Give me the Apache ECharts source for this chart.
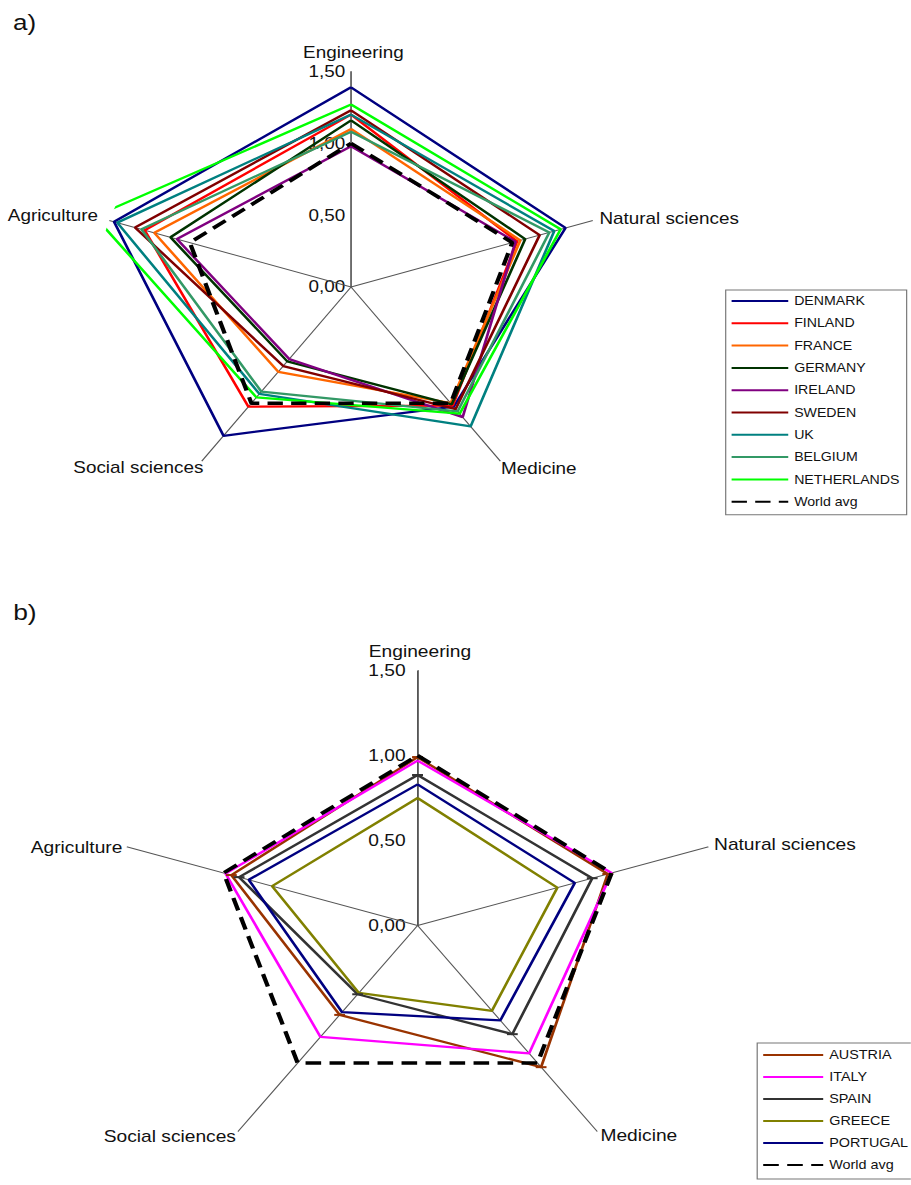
<!DOCTYPE html>
<html>
<head>
<meta charset="utf-8">
<script src="https://cdn.jsdelivr.net/npm/echarts@6/dist/echarts.min.js"></script>
<style>
  html, body { margin:0; padding:0; background:#fff; width:911px; height:1185px; overflow:hidden; }
  .chart { position:absolute; left:0; transform-origin:0 0; }
</style>
</head>
<body>
<div id="ca" class="chart" style="top:0;width:772px;height:590px;transform:scaleX(1.18);"></div>
<div id="cb" class="chart" style="top:590px;width:759px;height:595px;transform:scaleX(1.2);"></div>
<script>
// ---------- DATA ----------
const categories = ['Engineering', 'Natural sciences', 'Medicine', 'Social sciences', 'Agriculture'];
const tickValues = [0, 0.5, 1.0, 1.5];

// panel a)  order: Engineering, Natural sciences, Medicine, Social sciences, Agriculture
const countriesA = ['DENMARK', 'FINLAND', 'FRANCE', 'GERMANY', 'IRELAND', 'SWEDEN', 'UK', 'BELGIUM', 'NETHERLANDS', 'World avg'];
const denmark     = [1.39, 1.33, 1.03, 1.28, 1.47];
const finland     = [1.20, 1.03, 1.02, 1.03, 1.28];
const france      = [1.10, 1.05, 1.00, 0.73, 1.22];
const germany     = [1.16, 1.08, 1.01, 0.64, 1.12];
const ireland     = [0.98, 1.02, 1.12, 0.62, 1.08];
const sweden      = [1.23, 1.17, 1.05, 0.68, 1.34];
const uk          = [1.20, 1.26, 1.20, 0.92, 1.45];
const belgium     = [1.08, 1.23, 1.07, 0.90, 1.30];
const netherlands = [1.27, 1.30, 1.09, 0.95, 1.59];
const worldAvgA   = [1.00, 1.00, 1.00, 1.00, 1.00];

// panel b)
const countriesB = ['AUSTRIA', 'ITALY', 'SPAIN', 'GREECE', 'PORTUGAL', 'World avg'];
const austria   = [0.99, 0.98, 1.03, 0.65, 0.96];
const italy     = [0.97, 1.00, 0.93, 0.81, 0.99];
const spain     = [0.885, 0.90, 0.79, 0.50, 0.92];
const greece    = [0.75, 0.72, 0.62, 0.49, 0.75];
const portugal  = [0.83, 0.81, 0.69, 0.63, 0.87];
const worldAvgB = [1.00, 1.00, 1.00, 1.00, 1.00];

const valuesA = [denmark, finland, france, germany, ireland, sweden, uk, belgium, netherlands, worldAvgA];
const valuesB = [austria, italy, spain, greece, portugal, worldAvgB];

// ---------- STYLES ----------
const colorsA = ['#000080', '#ff0000', '#ff6600', '#003300', '#800080', '#800000', '#008080', '#339966', '#00ff00', '#000000'];
const colorsB = ['#993300', '#ff00ff', '#333333', '#808000', '#000080', '#000000'];
const markerB = [true, false, true, false, false, false];
const FONT = '"Liberation Sans", Arial, Helvetica, sans-serif';
const TXT = '#111';

const labelLayoutA = [
  { position: 'top', distance: 10, offset: [2, 0] },
  { position: 'right', distance: 5, offset: [0, -2] },
  { position: 'right', distance: 0, offset: [0, 7] },
  { position: 'left', distance: 0, offset: [2, 6] },
  { position: 'left', distance: 9, offset: [0, -5] }
];
const labelLayoutB = [
  { position: 'top', distance: 10, offset: [2, 0] },
  { position: 'right', distance: 4, offset: [0, -2] },
  { position: 'right', distance: 2, offset: [0, 4] },
  { position: 'left', distance: 1, offset: [0, 5] },
  { position: 'left', distance: 3, offset: [0, 1] }
];

// angle coordinate = category index (0..n), n coincides with 0 (full turn)
function closedPolygon(vals) {
  const d = vals.map((v, i) => [v, i]);
  d.push([vals[0], vals.length]);
  return d;
}

function buildOption(cfg) {
  const axisMax = tickValues[tickValues.length - 1];
  const series = [];
  // spokes (axis rays) with category names at their ends
  categories.forEach((name, i) => {
    const lay = cfg.labelLayout[i];
    series.push({
      type: 'line', coordinateSystem: 'polar', silent: true, z: 1,
      symbol: 'circle', symbolSize: 1, itemStyle: { color: 'rgba(0,0,0,0)' },
      lineStyle: { color: '#555', width: 1 },
      clip: false,
      data: [
        { value: [0, i] },
        { value: [axisMax, i], label: {
            show: true, formatter: name, position: lay.position, distance: lay.distance,
            offset: lay.offset, fontSize: 16, fontFamily: FONT, color: TXT } }
      ]
    });
  });
  cfg.names.forEach((name, k) => {
    const isAvg = name === 'World avg';
    const marker = cfg.markers && cfg.markers[k];
    series.push({
      name: name, type: 'line', coordinateSystem: 'polar', z: isAvg ? 5 : 3,
      clip: false,
      symbol: marker ? 'rect' : 'none', symbolSize: [9, 2], showSymbol: !!marker,
      itemStyle: { color: cfg.colors[k] },
      lineStyle: isAvg ? { color: '#000', width: 3.6, type: [13, 7] } : { color: cfg.colors[k], width: 2.3 },
      data: closedPolygon(cfg.values[k])
    });
  });
  return {
    animation: false,
    textStyle: { fontFamily: FONT },
    title: { text: cfg.title, left: cfg.titleLeft, top: cfg.titleTop,
             textStyle: { fontSize: 22, fontWeight: 'normal', color: TXT, fontFamily: FONT } },
    polar: { center: cfg.center, radius: cfg.radius },
    angleAxis: {
      type: 'value', min: 0, max: categories.length, startAngle: 90, clockwise: true,
      axisLine: { show: false }, axisTick: { show: false }, axisLabel: { show: false }, splitLine: { show: false }
    },
    radiusAxis: {
      type: 'value', min: tickValues[0], max: axisMax, interval: tickValues[1] - tickValues[0],
      axisLine: { show: true, lineStyle: { color: '#555', width: 1 } },
      axisTick: { show: false }, splitLine: { show: false },
      axisLabel: { show: true, margin: cfg.labelMargin, fontSize: 16, color: TXT, fontFamily: FONT,
                   formatter: v => v.toFixed(2).replace('.', ',') }
    },
    legend: Object.assign({
      orient: 'vertical', data: cfg.names, itemHeight: 14,
      itemStyle: { opacity: 0 },
      borderColor: '#777', borderWidth: 1, backgroundColor: '#fff',
      textStyle: { fontSize: 12, color: TXT, fontFamily: FONT }, selectedMode: false
    }, cfg.legend),
    series: series
  };
}

const chartA = echarts.init(document.getElementById('ca'), null, { renderer: 'svg' });
chartA.setOption(buildOption({
  title: 'a)', titleLeft: 6, titleTop: 6,
  center: [297.5, 287], radius: 215.5, labelMargin: 5,
  names: countriesA, values: valuesA, colors: colorsA, labelLayout: labelLayoutA,
  legend: { left: 615, top: 290, itemWidth: 48, itemGap: 10.3, padding: [5, 6, 7, 4] }
}));

const chartB = echarts.init(document.getElementById('cb'), null, { renderer: 'svg' });
chartB.setOption(buildOption({
  title: 'b)', titleLeft: 6, titleTop: 6,
  center: [348, 335.5], radius: 255, labelMargin: 10,
  names: countriesB, values: valuesB, colors: colorsB, markers: markerB, labelLayout: labelLayoutB,
  legend: { left: 631, top: 453, itemWidth: 50, itemGap: 10, padding: [6, 6, 8, 4] }
}));
</script>
</body>
</html>
